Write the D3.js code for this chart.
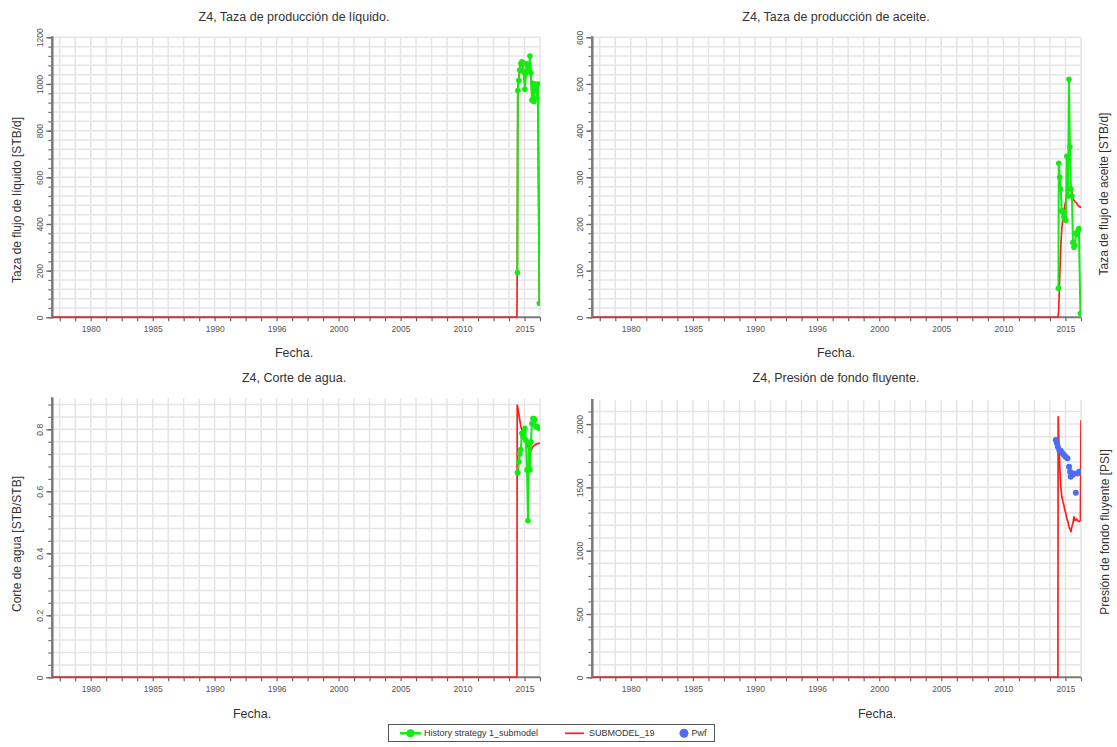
<!DOCTYPE html>
<html>
<head>
<meta charset="utf-8">
<script src="https://cdn.jsdelivr.net/npm/d3@7"></script>
<style>
  html, body { margin: 0; padding: 0; background: #fff; }
  svg { display: block; font-family: "Liberation Sans", Arial, sans-serif; }
</style>
</head>
<body>
<svg id="chart" width="1117" height="747"></svg>
<script>
// ---- time axis (decimal years) ----
const yearDomain = [1976.9, 2016.25];
const gridYears = d3.range(1977.5, 2016.3, 1.25);
const labelYears = [1980, 1985, 1990, 1995, 2000, 2005, 2010, 2015];
const labelText = ["1980", "1985", "1990", "1996", "2000", "2005", "2010", "2015"];

// ---- observed history (History strategy 1_submodel) ----
const histDates = [2014.43, 2014.46, 2014.54, 2014.62, 2014.70, 2014.79, 2014.87, 2014.95,
  2015.03, 2015.11, 2015.20, 2015.28, 2015.36, 2015.44, 2015.52, 2015.60, 2015.68,
  2015.76, 2015.84, 2015.92, 2016.00, 2016.08, 2016.20];
const histLiquid = [191, 972, 1015, 1060, 1088, 1095, 1091, 1050, 977, 1046, 1086, 1075,
  1060, 1120, 1048, 931, 1003, 924, 1000, 988, 940, 1000, 60];
const histOil = [62, 330, 300, 275, 228, 225, 215, 210, 208, 345, 260, 510, 365, 275, 260,
  160, 150, 155, 180, 178, 185, 190, 8];
const histWcut = [0.66, 0.66, 0.695, 0.72, 0.735, 0.787, 0.776, 0.79, 0.803, 0.765, 0.669,
  0.505, 0.755, 0.669, 0.76, 0.819, 0.835, 0.835, 0.83, 0.808, 0.81, 0.805, 0.803];

// ---- simulated (SUBMODEL_19) ----
const simDates = [1976.9, 2014.39, 2014.41, 2014.46, 2014.54, 2014.62, 2014.70, 2014.79,
  2014.87, 2014.95, 2015.03, 2015.11, 2015.20, 2015.28, 2015.36, 2015.44, 2015.52, 2015.60,
  2015.68, 2015.76, 2015.84, 2015.92, 2016.00, 2016.08, 2016.20, 2016.25];
const simLiquid = [0, 0, 191, 975, 1030, 1070, 1080, 1090, 1075, 1040, 1000, 1050, 1075,
  1070, 1065, 1100, 1040, 950, 990, 940, 990, 980, 950, 990, 60, 60];
const simOil = [0, 0, 0, 20, 90, 150, 190, 210, 228, 240, 250, 262, 266, 272, 278, 282, 270,
  255, 251, 248, 246, 244, 240, 238, 236, 236];
const simWcut = [0, 0, 0.878, 0.87, 0.85, 0.83, 0.81, 0.798, 0.785, 0.775, 0.766, 0.758, 0.75,
  0.744, 0.736, 0.728, 0.73, 0.738, 0.744, 0.747, 0.75, 0.752, 0.753, 0.754, 0.755, 0.755];
const simBhp = [0, 0, 2057, 1900, 1663, 1505, 1430, 1390, 1360, 1320, 1295, 1250, 1229, 1189,
  1170, 1150, 1190, 1216, 1268, 1240, 1242, 1250, 1235, 1229, 1240, 2030];

// ---- measured flowing bottom-hole pressure (Pwf) ----
const pwfDates = [2014.22, 2014.30, 2014.38, 2014.50, 2014.62, 2014.75, 2014.88, 2015.00,
  2015.16, 2015.29, 2015.37, 2015.42, 2015.56, 2015.69, 2015.83, 2015.96, 2016.10];
const pwfValues = [1875, 1850, 1822, 1795, 1790, 1770, 1755, 1742, 1729, 1663, 1624, 1584,
  1597, 1610, 1458, 1610, 1624];

const GREEN = "#12ec12", RED = "#ff1e1e", BLUE = "#4d6df5";

const panels = [
  { box: [52.3, 37.3, 540, 317.3], yMax: 1200, major: d3.range(0, 1201, 200), minorStep: 40,
    fmt: d => d, title: "Z4, Taza de producción de líquido.", titleX: 294, titleY: 21,
    yLabel: "Taza de flujo de líquido [STB/d]", yLabelX: 17, yLabelY: 200,
    xLabelX: 294, xLabelY: 357,
    sim: simLiquid, hist: histLiquid },
  { box: [592.3, 37.3, 1081, 317.3], yMax: 600, major: d3.range(0, 601, 100), minorStep: 20,
    fmt: d => d, title: "Z4, Taza de producción de aceite.", titleX: 836, titleY: 21,
    yLabel: "Taza de flujo de aceite [STB/d]", yLabelX: 1104, yLabelY: 194,
    xLabelX: 836, xLabelY: 357,
    sim: simOil, hist: histOil },
  { box: [52.3, 398.3, 540, 677.3], yMax: 0.9, major: [0, 0.2, 0.4, 0.6, 0.8], minorStep: 0.04,
    fmt: d => d === 0 ? "0" : d3.format(".1f")(d), title: "Z4, Corte de agua.", titleX: 294, titleY: 382,
    yLabel: "Corte de agua [STB/STB]", yLabelX: 17, yLabelY: 544,
    xLabelX: 252, xLabelY: 718,
    sim: simWcut, hist: histWcut },
  { box: [592.3, 400, 1081, 677.3], yMax: 2190, major: d3.range(0, 2001, 500), minorStep: 100,
    fmt: d => d, title: "Z4, Presión de fondo fluyente.", titleX: 836, titleY: 382,
    yLabel: "Presión de fondo fluyente [PSI]", yLabelX: 1105, yLabelY: 532,
    xLabelX: 877, xLabelY: 718,
    sim: simBhp, pwf: true }
];

const svg = d3.select("#chart");

panels.forEach((p, i) => {
  const [x0, y0, x1, y1] = p.box;
  const x = d3.scaleLinear().domain(yearDomain).range([x0, x1]);
  const y = d3.scaleLinear().domain([0, p.yMax]).range([y1, y0]);
  const g = svg.append("g");

  const minor = d3.range(0, p.yMax + 1e-9, p.minorStep).map(v => +v.toFixed(6));

  // grid
  g.append("g").selectAll("line").data(gridYears).join("line")
    .attr("x1", d => x(d)).attr("x2", d => x(d))
    .attr("y1", y0).attr("y2", y1)
    .attr("stroke", "#e5e5e5").attr("stroke-width", 1.5);
  g.append("g").selectAll("line").data(minor.filter(v => v > 0)).join("line")
    .attr("x1", x0).attr("x2", x1)
    .attr("y1", d => y(d)).attr("y2", d => y(d))
    .attr("stroke", "#e5e5e5").attr("stroke-width", 1.5);

  // y axis: minor ticks, then labelled majors
  const yMinorAxis = d3.axisLeft(y).tickValues(minor).tickSize(4).tickFormat("");
  const ya = g.append("g").attr("transform", `translate(${x0},0)`).call(yMinorAxis);
  ya.select(".domain").remove();
  ya.selectAll(".tick line").attr("stroke", "#777").attr("stroke-width", 1.2);
  const yMajorAxis = d3.axisLeft(y).tickValues(p.major).tickSize(6).tickFormat(p.fmt);
  const yb = g.append("g").attr("transform", `translate(${x0},0)`).call(yMajorAxis);
  yb.select(".domain").remove();
  yb.selectAll(".tick line").attr("stroke", "#666").attr("stroke-width", 1.3);
  yb.selectAll(".tick text")
    .attr("x", null).attr("dy", null)
    .attr("text-anchor", "middle")
    .attr("transform", "translate(-12,0) rotate(-90) translate(0,3)")
    .attr("font-size", 8.5).attr("fill", "#555")
    .attr("font-family", "Liberation Sans, Arial, sans-serif");
  g.append("line").attr("x1", x0).attr("x2", x0).attr("y1", y0 - 1).attr("y2", y1 + 1)
    .attr("stroke", "#7a7a7a").attr("stroke-width", 2.5);

  // x axis
  const xMinorAxis = d3.axisBottom(x).tickValues(gridYears).tickSize(4).tickFormat("");
  const xa = g.append("g").attr("transform", `translate(0,${y1})`).call(xMinorAxis);
  xa.select(".domain").remove();
  xa.selectAll(".tick line").attr("stroke", "#666").attr("stroke-width", 1.2);
  const xLabelAxis = d3.axisBottom(x).tickValues(labelYears).tickSize(0)
    .tickFormat((d, k) => labelText[k]).tickPadding(9);
  const xb = g.append("g").attr("transform", `translate(0,${y1})`).call(xLabelAxis);
  xb.select(".domain").remove();
  xb.selectAll(".tick text").attr("font-size", 8.5).attr("fill", "#555")
    .attr("font-family", "Liberation Sans, Arial, sans-serif");
  g.append("line").attr("x1", x0 - 1).attr("x2", x1).attr("y1", y1).attr("y2", y1)
    .attr("stroke", "#7a7a7a").attr("stroke-width", 2);

  // data, clipped to plot area
  const clipId = "clip" + i;
  svg.append("clipPath").attr("id", clipId).append("rect")
    .attr("x", x0).attr("y", y0 - 4).attr("width", x1 - x0).attr("height", y1 - y0 + 5);
  const d = g.append("g").attr("clip-path", `url(#${clipId})`);

  const line = d3.line().x(q => x(q[0])).y(q => y(q[1]));

  const simPts = simDates.map((t, k) => [t, p.sim[k]]);
  d.append("path").datum(simPts).attr("d", line)
    .attr("fill", "none").attr("stroke", RED).attr("stroke-width", 1.7)
    .attr("stroke-linejoin", "round");

  if (p.hist) {
    const hPts = histDates.map((t, k) => [t, p.hist[k]]);
    d.append("path").datum(hPts).attr("d", line)
      .attr("fill", "none").attr("stroke", GREEN).attr("stroke-width", 2)
      .attr("stroke-linejoin", "round");
    d.append("g").selectAll("circle").data(hPts).join("circle")
      .attr("cx", q => x(q[0])).attr("cy", q => y(q[1])).attr("r", 2.8)
      .attr("fill", GREEN);
  }
  if (p.pwf) {
    const pPts = pwfDates.map((t, k) => [t, pwfValues[k]]);
    d.append("g").selectAll("circle").data(pPts).join("circle")
      .attr("cx", q => x(q[0])).attr("cy", q => y(q[1])).attr("r", 3)
      .attr("fill", BLUE);
  }

  // labels
  svg.append("text").attr("x", p.titleX).attr("y", p.titleY)
    .attr("text-anchor", "middle").attr("font-size", 12.5).attr("fill", "#333").text(p.title);
  svg.append("text").attr("x", p.xLabelX).attr("y", p.xLabelY)
    .attr("text-anchor", "middle").attr("font-size", 12.5).attr("fill", "#333").text("Fecha.");
  svg.append("text")
    .attr("transform", `translate(${p.yLabelX},${p.yLabelY}) rotate(-90)`)
    .attr("text-anchor", "middle").attr("dy", "0.35em")
    .attr("font-size", 12).attr("fill", "#333").text(p.yLabel);
});

// legend
const lg = svg.append("g");
lg.append("rect").attr("x", 388.5).attr("y", 724.5).attr("width", 326).attr("height", 17)
  .attr("fill", "#fff").attr("stroke", "#555").attr("stroke-width", 1);
const ly = 733.3;
lg.append("line").attr("x1", 400).attr("x2", 421).attr("y1", ly).attr("y2", ly)
  .attr("stroke", GREEN).attr("stroke-width", 2.5);
lg.append("circle").attr("cx", 410.5).attr("cy", ly).attr("r", 4).attr("fill", GREEN);
lg.append("text").attr("x", 424).attr("y", ly).attr("dy", "0.35em")
  .attr("font-size", 9).attr("fill", "#333").text("History strategy 1_submodel");
lg.append("line").attr("x1", 565).attr("x2", 584).attr("y1", ly).attr("y2", ly)
  .attr("stroke", RED).attr("stroke-width", 1.7);
lg.append("text").attr("x", 589).attr("y", ly).attr("dy", "0.35em")
  .attr("font-size", 9).attr("fill", "#333").text("SUBMODEL_19");
lg.append("circle").attr("cx", 684).attr("cy", ly).attr("r", 4.5).attr("fill", BLUE);
lg.append("text").attr("x", 691.5).attr("y", ly).attr("dy", "0.35em")
  .attr("font-size", 9).attr("fill", "#333").text("Pwf");
</script>
</body>
</html>
